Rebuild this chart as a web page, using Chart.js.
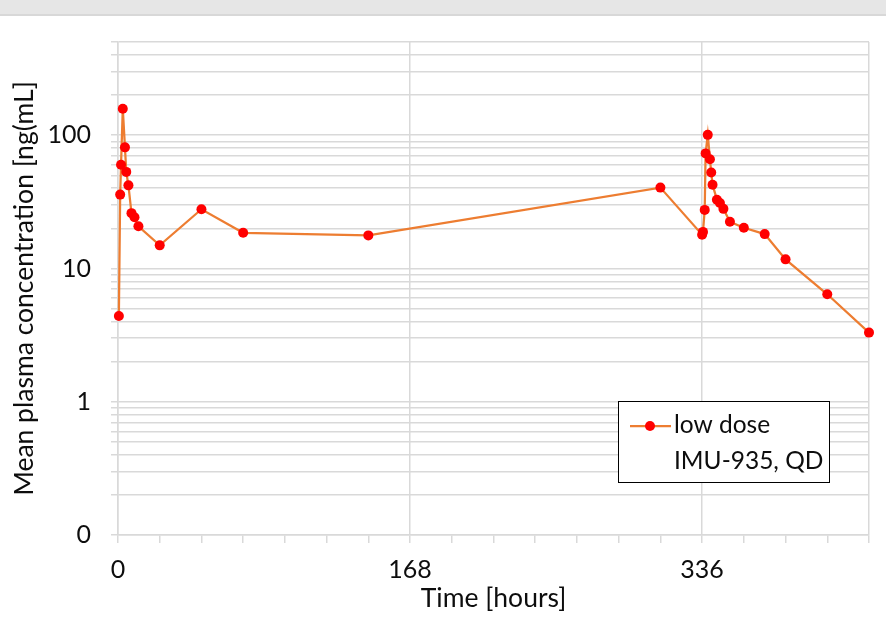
<!DOCTYPE html>
<html>
<head>
<meta charset="utf-8">
<script src="https://cdn.jsdelivr.net/npm/chart.js@4/dist/chart.umd.min.js"></script>
<style>
  html, body { margin: 0; padding: 0; background: #fff; }
  #wrap { width: 886px; height: 624px; position: relative; }
</style>
</head>
<body>
<div id="wrap"><canvas id="pkChart" width="886" height="624"></canvas></div>
<script>
// time after first dose [hours]
const timeHours = [0.5, 1.25, 1.75, 2.75, 4, 4.75, 6, 7.75, 9.5, 11.75, 24, 48, 72, 144, 312,
    336, 336.5, 337.5, 338, 339.25, 340.5, 341.25, 342, 344.5, 346.25, 348.25, 352, 360, 372, 384, 408, 432]
// mean plasma concentration [ng/mL]
const meanConc = [4.4, 35.8, 60, 158, 81, 53, 42, 26, 24.2, 20.7, 14.9, 27.8, 18.5, 17.7, 40.4,
    17.9, 18.8, 27.5, 73, 100.5, 66, 52.5, 42.5, 32.8, 31, 28, 22.4, 20.2, 18.1, 11.7, 6.4, 3.3]

const seriesLabel = ["low dose", "IMU-935, QD"]
const xMajorTicks = [0, 168, 336]
const yTickValues = [0.1, 0.2, 0.3, 0.4, 0.5, 0.6, 0.7, 0.8, 0.9,
    1, 2, 3, 4, 5, 6, 7, 8, 9,
    10, 20, 30, 40, 50, 60, 70, 80, 90,
    100, 200, 300, 400, 500]
const yTickLabels = {0.1: "0", 1: "1", 10: "10", 100: "100"}

const FONT = "Lato, 'Open Sans', sans-serif"
const GRID = '#d9d9d9'
const TEXT = '#0d0d0d'

// grey strip on top + legend box inside the plot
const framePlugin = {
    id: 'frame',
    beforeDraw(chart) {
        const c = chart.ctx
        c.save()
        c.fillStyle = '#e6e6e6'
        c.fillRect(0, 0, chart.width, 14)
        c.fillStyle = '#d8d8d8'
        c.fillRect(0, 14, chart.width, 2)
        c.restore()
    },
    afterDraw(chart) {
        const c = chart.ctx
        const ds = chart.data.datasets[0]
        c.save()
        c.fillStyle = '#fff'
        c.fillRect(618.5, 401.5, 211, 81)
        c.strokeStyle = '#000'
        c.lineWidth = 1
        c.strokeRect(618.5, 401.5, 211, 81)
        // sample line + marker
        c.strokeStyle = ds.borderColor
        c.lineWidth = ds.borderWidth
        c.beginPath()
        c.moveTo(630, 426)
        c.lineTo(671, 426)
        c.stroke()
        c.fillStyle = ds.pointBackgroundColor
        c.beginPath()
        c.arc(650, 426, ds.pointRadius, 0, Math.PI * 2)
        c.fill()
        c.fillStyle = TEXT
        c.font = "24.5px " + FONT
        c.textBaseline = 'middle'
        c.textAlign = 'left'
        c.fillText(seriesLabel[0], 674, 425)
        c.fillText(seriesLabel[1], 674, 461)
        c.restore()
    }
}

const points = timeHours.map((t, i) => ({x: t, y: meanConc[i]}))

new Chart(document.getElementById('pkChart'), {
    type: 'line',
    data: {
        datasets: [{
            label: seriesLabel.join(' '),
            data: points,
            borderColor: '#ed7d31',
            borderWidth: 2.25,
            pointBackgroundColor: '#ff0000',
            pointBorderWidth: 0,
            pointRadius: 5,
            tension: 0,
            clip: false,
        }]
    },
    options: {
        responsive: false,
        animation: false,
        events: [],
        layout: {padding: {top: 42, right: 17, left: 0, bottom: 0}},
        plugins: {
            legend: {display: false},
            tooltip: {enabled: false},
        },
        scales: {
            x: {
                type: 'linear',
                min: 0,
                max: 432,
                afterFit: (scale) => { scale.height = 89 },
                ticks: {
                    stepSize: 24,
                    autoSkip: false,
                    maxRotation: 0,
                    padding: 12,
                    color: TEXT,
                    font: {family: FONT, size: 25},
                    callback: (v) => xMajorTicks.includes(v) ? String(v) : '',
                },
                grid: {
                    color: (ctx) => (ctx.tick && (xMajorTicks.includes(ctx.tick.value) || ctx.tick.value === 432)) ? GRID : 'rgba(0,0,0,0)',
                    tickColor: GRID,
                    tickLength: 8,
                    lineWidth: 1.5,
                },
                border: {color: GRID, width: 1.5},
                title: {
                    display: true,
                    text: 'Time [hours]',
                    color: TEXT,
                    font: {family: FONT, size: 26.5},
                    padding: {top: 0, bottom: 10},
                },
            },
            y: {
                type: 'logarithmic',
                min: 0.1,
                max: 500,
                afterFit: (scale) => { scale.width = 118 },
                afterBuildTicks: (scale) => {
                    scale.ticks = yTickValues.map(v => ({value: v}))
                },
                ticks: {
                    autoSkip: false,
                    padding: 20,
                    color: TEXT,
                    font: {family: FONT, size: 25},
                    callback: (v) => yTickLabels[v] !== undefined ? yTickLabels[v] : '',
                },
                grid: {
                    color: GRID,
                    tickColor: GRID,
                    tickLength: 7,
                    lineWidth: 1.5,
                },
                border: {color: GRID, width: 1.5},
                title: {
                    display: true,
                    text: 'Mean plasma concentration [ng(mL]',
                    color: TEXT,
                    font: {family: FONT, size: 26.5},
                    padding: {top: 9, bottom: 0},
                },
            },
        },
    },
    plugins: [framePlugin],
})
</script>
</body>
</html>
